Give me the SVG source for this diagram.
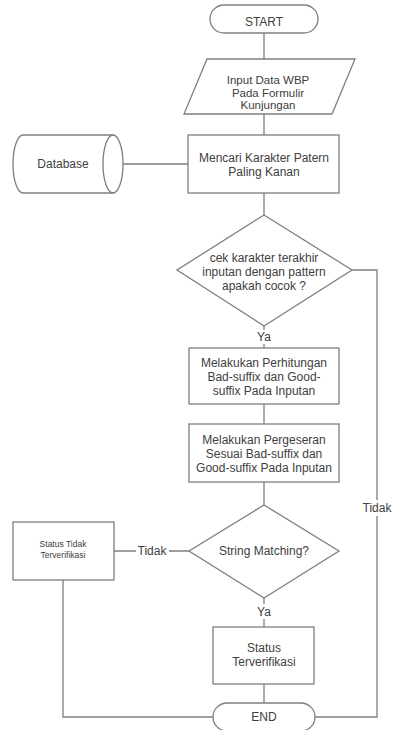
<svg xmlns="http://www.w3.org/2000/svg" width="396" height="730" viewBox="0 0 396 730">
<style>
.s{fill:#fff;stroke:#7f7f7f;stroke-width:1.3}
.c{fill:none;stroke:#7f7f7f;stroke-width:1.3}
text{font-family:"Liberation Sans",Arial,sans-serif;font-size:12px;fill:#404040;text-anchor:middle}
.sm{font-size:8.5px}
.p{font-size:11.5px}
</style>
<rect width="396" height="730" fill="#fff"/>
<g id="connectors">
<path class="c" d="M264,33V59M264,114V135M264,193V215M264,326V330M264,344V348M264,404V424M264,482V505M264,598V604M264,619V627M264,684V703"/>
<path class="c" d="M123,164H188"/>
<path class="c" d="M352,270H377V500M377,516V717H315"/>
<path class="c" d="M114,551H136M169,551H189"/>
<path class="c" d="M63,580V717H213"/>
<text x="264" y="341">Ya</text>
<text x="377" y="512">Tidak</text>
<text x="152" y="555">Tidak</text>
<text x="264" y="616">Ya</text>
</g>
<g id="start">
<rect class="s" x="210" y="5" width="108" height="28" rx="14"/>
<text x="264" y="26">START</text>
</g>
<g id="input">
<polygon class="s" points="207,59 355,59 332,114 184,114"/>
<text class="p" x="268" y="84">Input Data WBP</text>
<text class="p" x="268" y="96.5">Pada Formulir</text>
<text class="p" x="268" y="109">Kunjungan</text>
</g>
<g id="database">
<path class="s" d="M23,135H113A10,29 0 0 1 113,193H23A10,29 0 0 1 23,135Z"/>
<path class="c" d="M113,135A10,29 0 0 0 113,193"/>
<text x="63" y="168">Database</text>
</g>
<g id="mencari">
<rect class="s" x="188" y="135" width="151" height="58"/>
<text x="264" y="162">Mencari Karakter Patern</text>
<text x="264" y="176">Paling Kanan</text>
</g>
<g id="cek">
<polygon class="s" points="264,215 352,270 264,326 177,270"/>
<text x="264" y="262">cek karakter terakhir</text>
<text x="264" y="276">inputan dengan pattern</text>
<text x="264" y="290">apakah cocok ?</text>
</g>
<g id="hitung">
<rect class="s" x="189" y="348" width="150" height="56"/>
<text x="264" y="367">Melakukan Perhitungan</text>
<text x="264" y="381">Bad-suffix dan Good-</text>
<text x="264" y="395">suffix Pada Inputan</text>
</g>
<g id="geser">
<rect class="s" x="189" y="424" width="150" height="58"/>
<text x="264" y="444">Melakukan Pergeseran</text>
<text x="264" y="458">Sesuai Bad-suffix dan</text>
<text x="264" y="472">Good-suffix Pada Inputan</text>
</g>
<g id="matching">
<polygon class="s" points="264,505 339,551 264,598 189,551"/>
<text x="264" y="555">String Matching?</text>
</g>
<g id="tidakverif">
<rect class="s" x="13" y="522" width="101" height="58"/>
<text class="sm" x="63" y="547">Status Tidak</text>
<text class="sm" x="63" y="558">Terverifikasi</text>
</g>
<g id="verif">
<rect class="s" x="213" y="627" width="101" height="57"/>
<text x="264" y="652">Status</text>
<text x="264" y="666">Terverifikasi</text>
</g>
<g id="end">
<rect class="s" x="213" y="703" width="102" height="28" rx="14"/>
<text x="264" y="721">END</text>
</g>
</svg>
